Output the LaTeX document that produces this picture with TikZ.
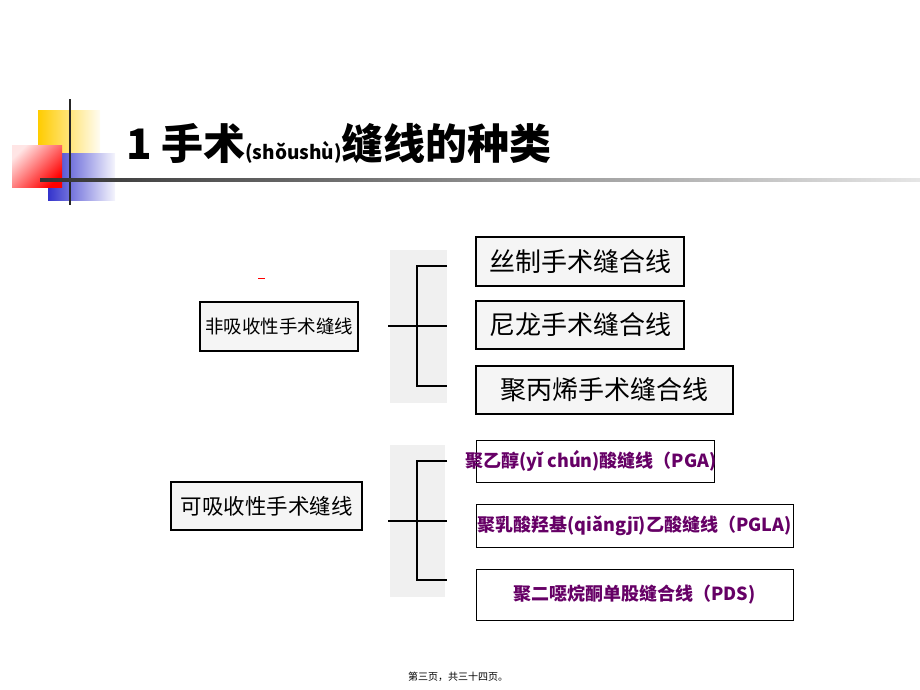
\documentclass[tikz,border=0pt]{standalone}
\usepackage{fontspec}
\setmainfont{Noto Sans CJK SC}
\newfontfamily\cjk{Noto Sans CJK SC}
\usetikzlibrary{positioning}
\definecolor{sutpurple}{HTML}{660066}
\definecolor{deckyellow}{HTML}{FFCC00}
\definecolor{deckblue}{HTML}{3333CC}

\begin{document}
\begin{tikzpicture}[x=1pt, y=-1pt]
	\tikzset{
		box/.style={draw=black, line width=1.3pt, fill=gray!8, inner sep=0pt}, % grey boxes
		sbox/.style={draw=black, line width=1pt, fill=white, inner sep=0pt}, % white boxes
		txt/.style={font=\cjk\bfseries\fontsize{18}{19}\selectfont, text=sutpurple}, % purple labels
		brace/.style={line width=1.6pt, black}, % bracket lines
		dotbg/.style={fill=gray!12, draw=none}, % dotted backdrop
	}
	\useasboundingbox (0,0) rectangle (920,689);
	% corner ornament
	\shade[left color=deckyellow, right color=deckyellow!5] (38,110) rectangle (100,156);
	\shade[left color=deckblue, right color=deckblue!5] (48,153) rectangle (115,200);
	\shade[left color=red!10, right color=red, shading angle=45] (12,145) rectangle (62,187);
	\draw[line width=2pt, black!85] (70,99) -- (70,205);
	\shade[left color=black!80, right color=black!10] (40,178.5) rectangle (920,181.5);
	% title
	\node[anchor=west, font=\cjk\bfseries\fontsize{42}{44}\selectfont, inner sep=0pt] (title) at (126,143)
		{1 手术{\fontsize{19}{20}\selectfont (shǒushù)}缝线的种类};
	% group 1
	\fill[dotbg] (390,250) rectangle (447,403);
	\node[box, minimum width=158, minimum height=49, font=\cjk\fontsize{18.5}{20}\selectfont] (0) at (279,326.5) {非吸收性手术缝线};
	\node[box, minimum width=208, minimum height=49, font=\cjk\fontsize{26}{27}\selectfont] (1) at (580,261.5) {丝制手术缝合线};
	\node[box, minimum width=208, minimum height=48, font=\cjk\fontsize{26}{27}\selectfont] (2) at (580,325) {尼龙手术缝合线};
	\node[box, minimum width=257, minimum height=48, font=\cjk\fontsize{26}{27}\selectfont] (3) at (604.5,390) {聚丙烯手术缝合线};
	\draw[red, line width=1pt] (258,278) -- (265,278);
	\coordinate (h0) at (388,326);
	\coordinate (v0) at (417,326);
	\coordinate (b1) at (447,266);
	\coordinate (b2) at (447,326);
	\coordinate (b3) at (447,386);
	\draw[brace] (h0) -- (b2);
	\draw[brace] (b1) -| (v0) |- (b3);
	% group 2
	\fill[dotbg] (390,445) rectangle (445,597);
	\node[box, minimum width=191, minimum height=48, font=\cjk\fontsize{21.5}{23}\selectfont] (4) at (266.5,506) {可吸收性手术缝线};
	\node[sbox, minimum width=238, minimum height=42,
		label={[txt, xshift=-4]center:聚乙醇(yǐ chún)酸缝线（PGA)}] (5) at (595,461) {};
	\node[sbox, minimum width=317, minimum height=43, txt] (6) at (634.5,525.5) {聚乳酸羟基(qiǎngjī)乙酸缝线（PGLA)};
	\node[sbox, minimum width=317, minimum height=51, txt] (7) at (634.5,594.5) {聚二噁烷酮单股缝合线（PDS)};
	\coordinate (h4) at (388,521);
	\coordinate (v4) at (417,521);
	\coordinate (b5) at (447,461);
	\coordinate (b6) at (447,521);
	\coordinate (b7) at (447,580);
	\draw[brace] (h4) -- (b6);
	\draw[brace] (b5) -| (v4) |- (b7);
	% footer
	\node[font=\cjk\fontsize{10}{11}\selectfont] (foot) at (458,677) {第三页，共三十四页。};
\end{tikzpicture}
\end{document}
